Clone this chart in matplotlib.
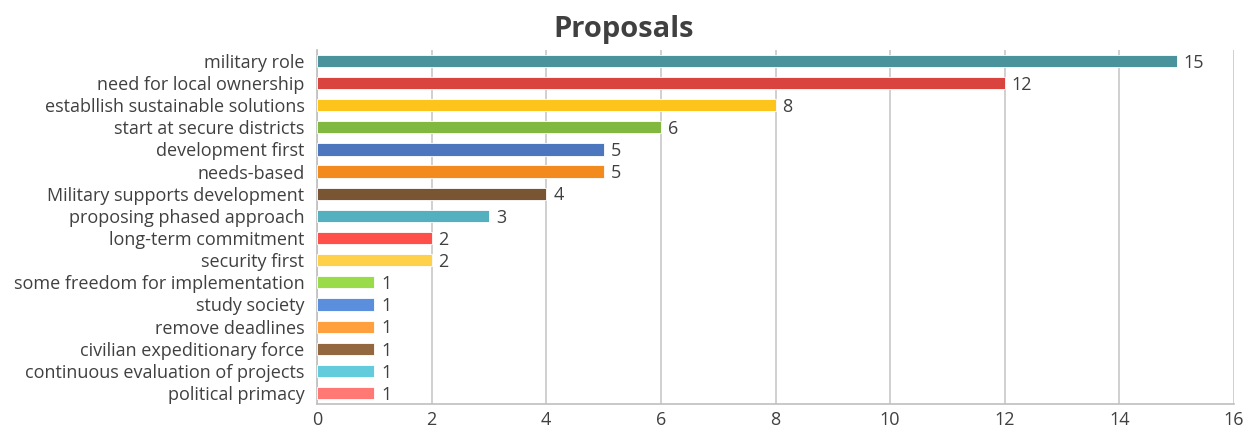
import matplotlib
matplotlib.use("Agg")
import matplotlib.pyplot as plt

labels = ["military role", "need for local ownership", "establlish sustainable solutions",
          "start at secure districts", "development first", "needs-based",
          "Military supports development", "proposing phased approach", "long-term commitment",
          "security first", "some freedom for implementation", "study society",
          "remove deadlines", "civilian expeditionary force",
          "continuous evaluation of projects", "political primacy"]
counts = [15, 12, 8, 6, 5, 5, 4, 3, 2, 2, 1, 1, 1, 1, 1, 1]
colors = ["#4A939C", "#D9443F", "#FDC41C", "#80B840", "#4C77BE", "#F28A1D", "#7A5533",
          "#54AFBF", "#FF4F4B", "#FFD04A", "#9ADB4A", "#5B8FDE", "#FF9F3D", "#936840",
          "#62CBDC", "#FF7874"]

plt.rcParams['font.family'] = ['Open Sans', 'DejaVu Sans']
txt = "#404040"

fig = plt.figure(figsize=(12.47, 4.29), dpi=100)
ax = fig.add_axes([0.2542, 0.058, 0.7354, 0.826])

ypos = list(range(len(labels)))[::-1]
ax.barh(ypos, counts, height=0.55, color=colors, edgecolor="white", linewidth=0.6, zorder=3)
for y, v in zip(ypos, counts):
    ax.text(v + 0.12, y - 0.08, str(v), va="center", ha="left", fontsize=13, color=txt)

ax.set_xlim(0, 16)
ax.set_ylim(-0.5, 15.5)
ax.set_xticks(range(0, 17, 2))
ax.set_yticks(ypos)
ax.set_yticklabels(labels)
ax.tick_params(axis="both", labelsize=13, colors=txt, length=0, pad=5)
ax.tick_params(axis="y", pad=9)
ax.grid(axis="x", color="#C8C8C8", linewidth=1.2, zorder=0)
for s in ["top", "right"]:
    ax.spines[s].set_visible(False)
for s in ["left", "bottom"]:
    ax.spines[s].set_color("#BFBFBF")
    ax.spines[s].set_linewidth(1.2)

fig.text(0.5, 0.932, "Proposals", ha="center", va="center", fontsize=21,
         fontweight="bold", color=txt)

fig.savefig("out.png", dpi=100)
